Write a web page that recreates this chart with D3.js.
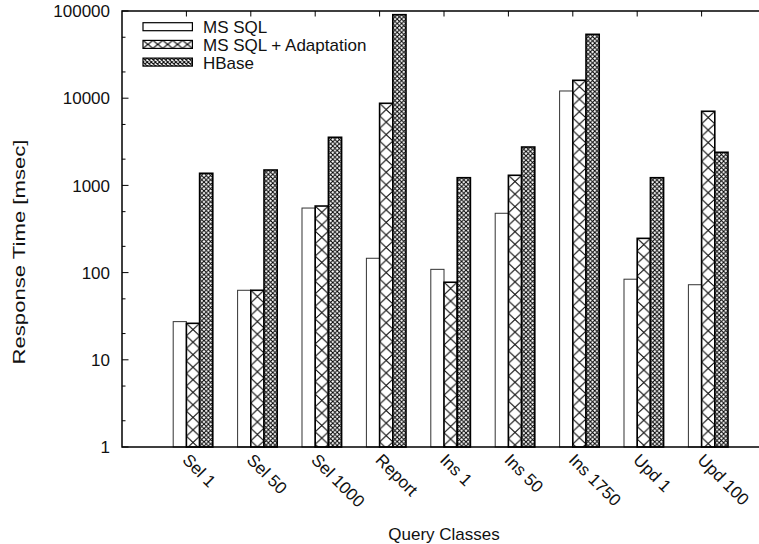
<!DOCTYPE html>
<html>
<head>
<meta charset="utf-8">
<script src="https://cdn.jsdelivr.net/npm/d3@7"></script>
<style>
  body { margin: 0; background: #fff; }
  text { font-family: "Liberation Sans", Arial, sans-serif; fill: #111; }
</style>
</head>
<body>
<script>
var categories = ["Sel 1", "Sel 50", "Sel 1000", "Report", "Ins 1", "Ins 50", "Ins 1750", "Upd 1", "Upd 100"];
var seriesNames = ["MS SQL", "MS SQL + Adaptation", "HBase"];
var msSql      = [27.4, 62.7, 550, 146, 109, 479, 12100, 84, 72.6];
var msSqlAdapt = [26.2, 62.7, 580, 8740, 77.5, 1306, 16040, 247, 7080];
var hbase      = [1377, 1502, 3562, 90700, 1225, 2755, 54000, 1225, 2397];
var yTicks = [1, 10, 100, 1000, 10000, 100000];

var series = [msSql, msSqlAdapt, hbase];

var svg = d3.select("body").append("svg")
    .attr("width", 759)
    .attr("height", 544);

var x = d3.scaleLinear()
    .domain([-1, 9])
    .range([122, 766]);

var y = d3.scaleLog()
    .domain([1, 100000])
    .range([447, 11]);

var barW = x(0.205) - x(0);

// hatch patterns
var defs = svg.append("defs");
function hatch(id, w, h, sw) {
  var p = defs.append("pattern")
      .attr("id", id)
      .attr("patternUnits", "userSpaceOnUse")
      .attr("width", w)
      .attr("height", h);
  p.append("rect").attr("width", w).attr("height", h).attr("fill", "#fff");
  p.append("path")
      .attr("d", "M0,0L" + w + "," + h + "M" + w + ",0L0," + h)
      .attr("stroke", "#000")
      .attr("stroke-width", sw);
}
hatch("adapt", barW, barW * 0.95, 1);
hatch("hb", barW / 3, barW / 3, 1);
hatch("adaptKey", 49.4 / 5, 8, 1);
hatch("hbKey", 49.4 / 12, 4, 1);

var fills = ["#fff", "url(#adapt)", "url(#hb)"];
var strokes = ["#333", "#000", "#000"];
var strokeW = [1, 1.6, 1.6];

// bars
series.forEach(function(vals, j) {
  var g = svg.append("g");
  g.selectAll("g")
      .data(vals)
    .enter().append("g")
      .attr("transform", function(d, i) {
        return "translate(" + (x(i) + (j - 1) * barW) + "," + y(d) + ")";
      })
    .append("rect")
      .attr("width", barW)
      .attr("height", function(d) { return y(1) - y(d); })
      .attr("fill", fills[j])
      .attr("stroke", strokes[j])
      .attr("stroke-width", strokeW[j]);
});

// frame
svg.append("path")
    .attr("d", "M" + x(9) + "," + y(100000) + "H" + x(-1) + "V" + y(1) + "H" + x(9))
    .attr("fill", "none")
    .attr("stroke", "#000")
    .attr("stroke-width", 1.5);

// y ticks
var minor = [];
yTicks.slice(0, -1).forEach(function(t) { minor.push(t * 2, t * 5); });
svg.selectAll(".ymin").data(minor).enter().append("line")
    .attr("x1", x(-1)).attr("x2", x(-1) + 3.5)
    .attr("y1", function(d) { return y(d); }).attr("y2", function(d) { return y(d); })
    .attr("stroke", "#000");
svg.selectAll(".ymaj").data(yTicks).enter().append("line")
    .attr("x1", x(-1)).attr("x2", x(-1) + 6.5)
    .attr("y1", function(d) { return y(d); }).attr("y2", function(d) { return y(d); })
    .attr("stroke", "#000");
svg.selectAll(".ylab").data(yTicks).enter().append("text")
    .attr("x", 110)
    .attr("y", function(d) { return y(d); })
    .attr("dy", "0.36em")
    .attr("text-anchor", "end")
    .style("font-size", "17px")
    .text(function(d) { return d; });

// x ticks (top mirror visible)
svg.selectAll(".xt").data(categories).enter().append("line")
    .attr("x1", function(d, i) { return x(i); }).attr("x2", function(d, i) { return x(i); })
    .attr("y1", y(100000)).attr("y2", y(100000) + 5.5)
    .attr("stroke", "#000");
svg.selectAll(".xlab").data(categories).enter().append("text")
    .attr("transform", function(d, i) {
      return "translate(" + (x(i) - 5) + ",461) rotate(45)";
    })
    .style("font-size", "17px")
    .text(function(d) { return d; });

// axis titles
svg.append("text")
    .attr("x", x(4))
    .attr("y", 540)
    .attr("text-anchor", "middle")
    .style("font-size", "17px")
    .text("Query Classes");
svg.append("text")
    .attr("transform", "translate(25,252) rotate(-90)")
    .attr("text-anchor", "middle")
    .attr("textLength", 225)
    .attr("lengthAdjust", "spacingAndGlyphs")
    .style("font-size", "17px")
    .text("Response Time [msec]");

// legend
var keyFills = ["#fff", "url(#adaptKey)", "url(#hbKey)"];
var key = svg.selectAll(".key").data(seriesNames).enter().append("g")
    .attr("transform", function(d, i) { return "translate(143," + (22.7 + i * 17.7) + ")"; });
key.append("rect")
    .attr("width", 49.4).attr("height", 8)
    .attr("fill", function(d, i) { return keyFills[i]; })
    .attr("stroke", "#000")
    .attr("stroke-width", 1.2);
key.append("text")
    .attr("x", 60)
    .attr("y", 10.5)
    .style("font-size", "17px")
    .text(function(d) { return d; });
</script>
</body>
</html>
